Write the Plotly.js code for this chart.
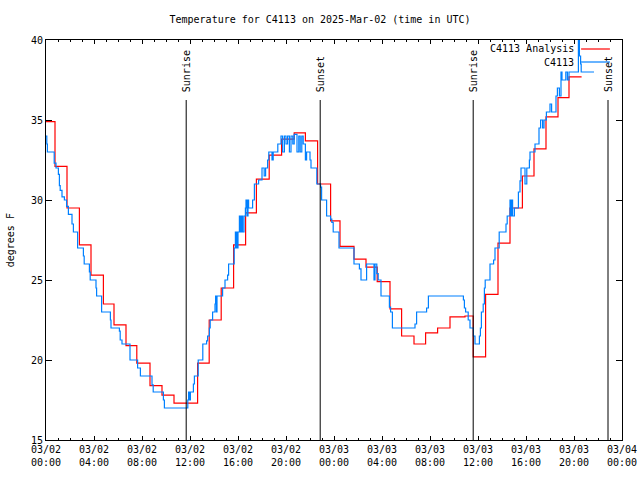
<!DOCTYPE html>
<html>
<head>
<meta charset="utf-8">
<script src="https://cdn.plot.ly/plotly-3.0.1.min.js"></script>
<style>html,body{margin:0;padding:0;background:#fff;}</style>
</head>
<body>
<div id="chart" style="width:640px;height:480px;"></div>
<script>
// Analysis (hourly, step) series
var analysisTimes = [
  '2025-03-02 00:00','2025-03-02 00:45','2025-03-02 01:45','2025-03-02 02:47','2025-03-02 03:45',
  '2025-03-02 04:47','2025-03-02 05:40','2025-03-02 06:40','2025-03-02 07:34','2025-03-02 08:40',
  '2025-03-02 09:40','2025-03-02 10:40','2025-03-02 12:38','2025-03-02 13:36','2025-03-02 14:36',
  '2025-03-02 15:38','2025-03-02 16:38','2025-03-02 17:32','2025-03-02 18:36','2025-03-02 19:38',
  '2025-03-02 20:41','2025-03-02 21:37','2025-03-02 22:38','2025-03-02 23:43','2025-03-03 00:30',
  '2025-03-03 01:40','2025-03-03 02:40','2025-03-03 03:36','2025-03-03 04:40','2025-03-03 05:38',
  '2025-03-03 06:40','2025-03-03 07:38','2025-03-03 08:38','2025-03-03 09:40','2025-03-03 10:55',
  '2025-03-03 11:36','2025-03-03 12:38','2025-03-03 13:40','2025-03-03 14:40','2025-03-03 15:42',
  '2025-03-03 16:40','2025-03-03 17:40','2025-03-03 18:40','2025-03-03 19:35','2025-03-03 20:38'
];
var analysisTemps = [
  34.9, 32.1, 29.5, 27.2, 25.3,
  23.5, 22.2, 20.9, 19.8, 18.4,
  17.8, 17.3, 19.8, 22.5, 24.5,
  27.2, 29.2, 31.3, 32.8, 33.8,
  34.2, 33.7, 31.0, 28.7, 27.1,
  26.3, 25.8, 24.9, 23.2, 21.5,
  21.0, 21.7, 22.0, 22.7, 22.75,
  20.2, 24.1, 27.3, 29.5, 31.5,
  33.2, 35.2, 36.4, 37.7, 37.7
];

// Station observations (step) series
var obsTimes = [
  '2025-03-02 00:00','2025-03-02 00:04','2025-03-02 00:07','2025-03-02 00:41','2025-03-02 00:50',
  '2025-03-02 01:02','2025-03-02 01:07','2025-03-02 01:11','2025-03-02 01:20','2025-03-02 01:32',
  '2025-03-02 01:43','2025-03-02 01:52','2025-03-02 02:10','2025-03-02 02:17','2025-03-02 02:38',
  '2025-03-02 03:07','2025-03-02 03:11','2025-03-02 03:37','2025-03-02 03:41','2025-03-02 04:10',
  '2025-03-02 04:13','2025-03-02 04:38','2025-03-02 05:22','2025-03-02 05:25','2025-03-02 06:07',
  '2025-03-02 06:11','2025-03-02 06:20','2025-03-02 07:00','2025-03-02 07:38','2025-03-02 07:52',
  '2025-03-02 08:50','2025-03-02 08:56','2025-03-02 09:47','2025-03-02 09:52','2025-03-02 11:49',
  '2025-03-02 11:53','2025-03-02 11:56','2025-03-02 12:02','2025-03-02 12:17','2025-03-02 12:22',
  '2025-03-02 12:41','2025-03-02 13:04','2025-03-02 13:23','2025-03-02 13:28','2025-03-02 13:37',
  '2025-03-02 13:41','2025-03-02 13:53','2025-03-02 14:05','2025-03-02 14:08','2025-03-02 14:12',
  '2025-03-02 14:15','2025-03-02 14:43','2025-03-02 14:55','2025-03-02 15:08','2025-03-02 15:13',
  '2025-03-02 15:41','2025-03-02 15:47','2025-03-02 15:50','2025-03-02 15:53','2025-03-02 15:56',
  '2025-03-02 16:00','2025-03-02 16:07','2025-03-02 16:12','2025-03-02 16:17','2025-03-02 16:23',
  '2025-03-02 16:30','2025-03-02 16:37','2025-03-02 16:40','2025-03-02 16:45','2025-03-02 16:50',
  '2025-03-02 16:53','2025-03-02 17:13','2025-03-02 17:22','2025-03-02 17:43','2025-03-02 18:00',
  '2025-03-02 18:11','2025-03-02 18:18','2025-03-02 18:28','2025-03-02 18:34','2025-03-02 18:50',
  '2025-03-02 18:56','2025-03-02 19:19','2025-03-02 19:35','2025-03-02 19:43','2025-03-02 19:52',
  '2025-03-02 20:00','2025-03-02 20:08','2025-03-02 20:17','2025-03-02 20:25','2025-03-02 20:34',
  '2025-03-02 20:41','2025-03-02 20:55','2025-03-02 21:04','2025-03-02 21:11','2025-03-02 21:19',
  '2025-03-02 21:26','2025-03-02 21:37','2025-03-02 21:43','2025-03-02 22:00','2025-03-02 22:05',
  '2025-03-02 22:34','2025-03-02 22:53','2025-03-02 22:58','2025-03-02 23:23','2025-03-02 23:43',
  '2025-03-02 23:49','2025-03-02 23:56','2025-03-03 00:25','2025-03-03 01:40','2025-03-03 02:07',
  '2025-03-03 02:15','2025-03-03 02:43','2025-03-03 03:20','2025-03-03 03:25','2025-03-03 03:34',
  '2025-03-03 03:41','2025-03-03 03:55','2025-03-03 04:37','2025-03-03 04:43','2025-03-03 04:52',
  '2025-03-03 06:45','2025-03-03 06:53','2025-03-03 07:43','2025-03-03 07:52','2025-03-03 10:47',
  '2025-03-03 10:52','2025-03-03 10:58','2025-03-03 11:11','2025-03-03 11:20','2025-03-03 11:37',
  '2025-03-03 11:45','2025-03-03 12:07','2025-03-03 12:12','2025-03-03 12:17','2025-03-03 12:26',
  '2025-03-03 12:32','2025-03-03 12:36','2025-03-03 13:00','2025-03-03 13:18','2025-03-03 13:25',
  '2025-03-03 13:46','2025-03-03 14:20','2025-03-03 14:26','2025-03-03 14:40','2025-03-03 14:43',
  '2025-03-03 14:49','2025-03-03 14:53','2025-03-03 15:02','2025-03-03 15:22','2025-03-03 15:30',
  '2025-03-03 15:35','2025-03-03 15:55','2025-03-03 16:04','2025-03-03 16:17','2025-03-03 16:20',
  '2025-03-03 16:45','2025-03-03 17:05','2025-03-03 17:13','2025-03-03 17:23','2025-03-03 17:30',
  '2025-03-03 17:42','2025-03-03 18:00','2025-03-03 18:08','2025-03-03 18:30','2025-03-03 18:37',
  '2025-03-03 18:47','2025-03-03 18:55','2025-03-03 19:00','2025-03-03 19:19','2025-03-03 19:27',
  '2025-03-03 19:35','2025-03-03 20:22','2025-03-03 20:27','2025-03-03 20:33','2025-03-03 20:36',
  '2025-03-03 21:40'
];
var obsTemps = [
  34.0, 33.5, 33.0, 32.3, 32.0,
  31.6, 30.9, 30.6, 30.2, 30.0,
  29.6, 29.1, 28.5, 28.0, 27.0,
  26.5, 26.0, 25.5, 25.0, 24.5,
  24.0, 23.0, 22.5, 22.0, 21.8,
  21.25, 21.0, 20.0, 19.5, 19.0,
  18.45, 18.0, 17.5, 17.0, 17.5,
  18.0, 17.5, 18.0, 18.5, 19.0,
  20.0, 21.0, 21.2, 21.5, 22.0,
  22.5, 23.0, 23.5, 24.0, 23.0,
  24.0, 24.5, 25.0, 25.3, 26.0,
  27.0, 28.0, 27.0, 28.0, 27.0,
  28.0, 29.0, 28.0, 29.0, 28.0,
  29.0, 29.5, 30.0, 29.0, 30.0,
  29.5, 30.0, 31.0, 31.25, 32.0,
  31.5, 32.0, 32.5, 33.0, 32.5,
  33.0, 33.5, 34.0, 33.0, 34.0,
  33.5, 34.0, 33.0, 34.0, 33.5,
  34.1, 33.0, 34.0, 33.0, 34.0,
  33.5, 32.5, 33.0, 32.5, 32.0,
  31.0, 30.8, 30.0, 29.0, 28.8,
  28.6, 28.0, 27.0, 26.0, 25.7,
  25.0, 26.0, 25.0, 26.0, 25.4,
  25.0, 24.0, 23.3, 23.0, 22.0,
  22.25, 23.0, 23.25, 24.0, 23.75,
  23.25, 23.0, 22.5, 22.0, 21.5,
  21.0, 21.5, 22.0, 23.0, 23.5,
  24.5, 25.0, 26.0, 26.25, 27.0,
  28.0, 28.5, 29.0, 30.0, 29.0,
  30.0, 29.0, 29.5, 30.5, 31.2,
  32.0, 31.0, 32.0, 32.5, 33.0,
  33.5, 34.5, 35.0, 34.5, 35.0,
  35.5, 36.0, 35.5, 36.5, 37.0,
  36.5, 38.0, 37.5, 38.0, 37.5,
  38.0, 41.0, 39.0, 38.5, 38.0,
  38.0
];

// Sun events
var sunTimes = ['2025-03-02 11:41','2025-03-02 22:51','2025-03-03 11:36','2025-03-03 22:50'];
var sunLabels = ['Sunrise','Sunset','Sunrise','Sunset'];

var seriesNames = ['C4113 Analysis','C4113'];
var seriesColors = ['#ff0000','#0080ff'];

var FONT = 'DejaVu Sans Mono, monospace';

var traces = [
  {x: analysisTimes, y: analysisTemps, type:'scatter', mode:'lines', name: seriesNames[0],
   line:{shape:'hv', color: seriesColors[0], width:1.2}},
  {x: obsTimes, y: obsTemps, type:'scatter', mode:'lines', name: seriesNames[1],
   line:{shape:'hv', color: seriesColors[1], width:1.2}}
];

var shapes = [];
var annotations = [];
sunTimes.forEach(function(t, i){
  shapes.push({type:'line', xref:'x', yref:'paper', x0:t, x1:t, y0:0, y1:0.85,
               line:{color:'#000', width:1}});
  annotations.push({xref:'x', yref:'paper', x:t, y:0.865, yanchor:'bottom', xanchor:'center',
                    text: sunLabels[i], textangle:-90, showarrow:false,
                    font:{family:FONT, size:10, color:'#000'}});
});

// Legend (gnuplot style: text left, sample right)
var legY = [0.9775, 0.945];
seriesNames.forEach(function(n, i){
  annotations.push({xref:'paper', yref:'paper', x:0.920, y:legY[i], xanchor:'right', yanchor:'middle',
                    text:n, showarrow:false, font:{family:FONT, size:10, color:'#000'}});
  shapes.push({type:'line', xref:'paper', yref:'paper', x0:0.929, x1:0.979, y0:legY[i], y1:legY[i],
               line:{color: seriesColors[i], width:1.2}});
});

// y-axis title
annotations.push({xref:'paper', yref:'paper', x:-0.062, y:0.5, xanchor:'center', yanchor:'middle',
                  text:'degrees F', textangle:-90, showarrow:false, font:{family:FONT, size:10, color:'#000'}});

var layout = {
  width:640, height:480,
  margin:{l:46, r:18, t:40, b:40},
  paper_bgcolor:'#fff', plot_bgcolor:'#fff',
  showlegend:false,
  title:{text:'Temperature for C4113 on 2025-Mar-02 (time in UTC)', x:0.5, xref:'container',
         y:1-19/480, yref:'container', yanchor:'middle', font:{family:FONT, size:10, color:'#000'}},
  xaxis:{type:'date', range:['2025-03-02 00:00','2025-03-04 00:00'],
         tick0:'2025-03-02 00:00', dtick:4*3600*1000, tickformat:'%m/%d<br>%H:%M',
         ticks:'inside', ticklen:4, tickcolor:'#000', showgrid:false, zeroline:false,
         showline:true, linecolor:'#000', linewidth:1, mirror:'ticks',
         minor:{dtick:3600*1000, ticks:'inside', ticklen:2, tickcolor:'#000', showgrid:false},
         tickfont:{family:FONT, size:10, color:'#000'}, fixedrange:true},
  yaxis:{range:[15,40], dtick:5, tick0:15, ticks:'inside', ticklen:6, tickcolor:'#000',
         showgrid:false, zeroline:false, showline:true, linecolor:'#000', linewidth:1, mirror:'ticks',
         tickfont:{family:FONT, size:10, color:'#000'}, fixedrange:true},
  shapes: shapes,
  annotations: annotations
};

Plotly.newPlot('chart', traces, layout, {displayModeBar:false, staticPlot:true});
</script>
</body>
</html>
